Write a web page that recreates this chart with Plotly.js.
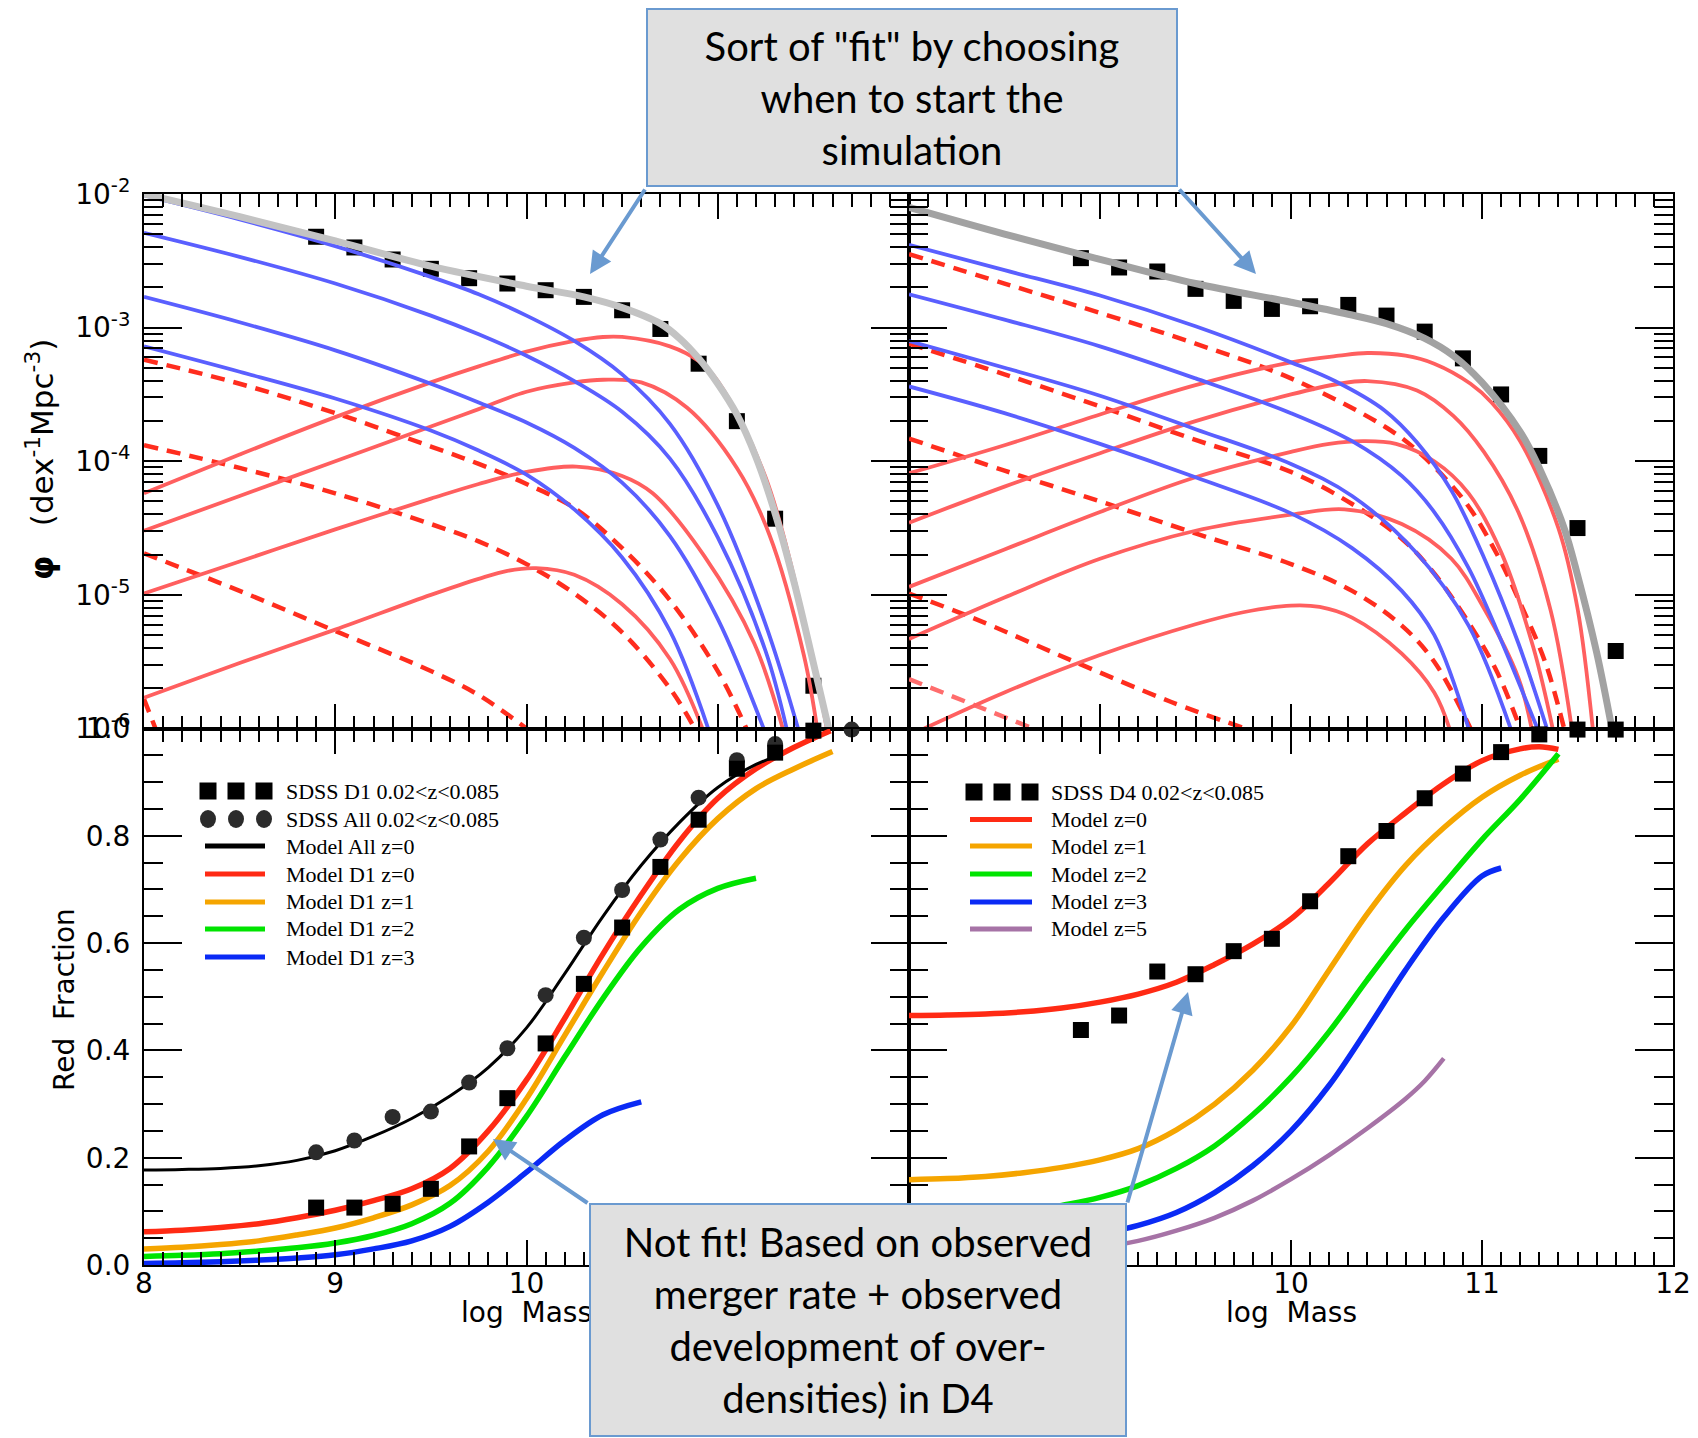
<!DOCTYPE html>
<html><head><meta charset="utf-8">
<script src="https://cdn.plot.ly/plotly-3.0.1.min.js"></script>
<style>html,body{margin:0;padding:0;background:#fff}#chart{width:1698px;height:1438px}</style>
</head><body><div id="chart"></div>
<script>
// ================= DATA =================
// ---- top-left panel: log10(phi) vs log Mass ----
const tlSqX = [8.9, 9.1, 9.3, 9.5, 9.7, 9.9, 10.1, 10.3, 10.5, 10.7, 10.9, 11.1, 11.3, 11.5];
const tlSqY = [-2.32, -2.40, -2.49, -2.56, -2.63, -2.67, -2.72, -2.77, -2.87, -3.01, -3.27, -3.70, -4.43, -5.68];
const tlGrayX = [8.0, 8.5, 9.0, 9.5, 10.0, 10.3, 10.5, 10.7, 10.8, 10.9, 11.0, 11.1, 11.2, 11.3, 11.4, 11.5, 11.58];
const tlGrayY = [-2.00, -2.17, -2.35, -2.54, -2.69, -2.77, -2.85, -2.97, -3.08, -3.23, -3.42, -3.65, -3.97, -4.39, -4.91, -5.51, -6.0];
const tlB1X = [8.0, 8.5, 9.0, 9.5, 9.75, 10.0, 10.25, 10.5, 10.75, 11.0, 11.25, 11.42];
const tlB1Y = [-2.01, -2.19, -2.39, -2.62, -2.75, -2.91, -3.10, -3.35, -3.72, -4.33, -5.22, -6.0];
const tlB2X = [8.0, 8.5, 9.0, 9.5, 9.75, 10.0, 10.25, 10.5, 10.75, 11.0, 11.25, 11.36];
const tlB2Y = [-2.29, -2.47, -2.67, -2.91, -3.05, -3.21, -3.40, -3.63, -3.98, -4.57, -5.42, -6.0];
const tlB3X = [8.0, 8.5, 9.0, 9.5, 9.75, 10.0, 10.25, 10.5, 10.75, 11.0, 11.24];
const tlB3Y = [-2.77, -2.96, -3.17, -3.42, -3.56, -3.71, -3.90, -4.16, -4.56, -5.18, -6.0];
const tlB4X = [8.0, 8.5, 9.0, 9.5, 9.75, 10.0, 10.25, 10.5, 10.75, 10.95];
const tlB4Y = [-3.14, -3.33, -3.53, -3.77, -3.92, -4.10, -4.36, -4.72, -5.27, -6.0];
const tlD1X = [8.0, 8.5, 9.0, 9.5, 9.75, 10.0, 10.25, 10.5, 10.75, 11.0, 11.15];
const tlD1Y = [-3.24, -3.42, -3.64, -3.89, -4.02, -4.17, -4.35, -4.65, -5.04, -5.57, -6.0];
const tlD2X = [8.0, 8.5, 9.0, 9.5, 9.75, 10.0, 10.25, 10.5, 10.75, 10.88];
const tlD2Y = [-3.88, -4.05, -4.24, -4.47, -4.60, -4.77, -4.99, -5.28, -5.70, -6.0];
const tlD3X = [8.0, 8.5, 9.0, 9.5, 9.75, 10.0];
const tlD3Y = [-4.69, -4.97, -5.27, -5.57, -5.75, -6.0];
const tlD4X = [8.0, 8.06];
const tlD4Y = [-5.78, -6.0];
const tlRaX = [8.0, 8.5, 9.0, 9.5, 9.75, 10.0, 10.25, 10.4, 10.5, 10.75, 10.9, 11.0, 11.25, 11.5, 11.57];
const tlRaY = [-4.24, -3.95, -3.67, -3.41, -3.29, -3.18, -3.10, -3.07, -3.07, -3.14, -3.25, -3.40, -4.12, -5.50, -6.0];
const tlRbX = [8.0, 8.5, 9.0, 9.5, 9.75, 10.0, 10.25, 10.4, 10.6, 10.84, 11.1, 11.27, 11.45, 11.52];
const tlRbY = [-4.52, -4.26, -4.00, -3.74, -3.61, -3.48, -3.41, -3.39, -3.41, -3.60, -4.05, -4.55, -5.45, -6.0];
const tlRcX = [8.0, 8.5, 9.0, 9.5, 9.75, 10.0, 10.26, 10.5, 10.66, 10.93, 11.19, 11.34];
const tlRcY = [-4.99, -4.75, -4.51, -4.28, -4.17, -4.08, -4.04, -4.11, -4.24, -4.71, -5.36, -6.0];
const tlRdX = [8.0, 8.5, 9.0, 9.5, 9.75, 9.9, 10.05, 10.25, 10.5, 10.75, 10.92];
const tlRdY = [-5.77, -5.51, -5.26, -5.00, -4.88, -4.82, -4.80, -4.85, -5.07, -5.48, -6.0];

// ---- top-right panel ----
const trSqX = [8.9, 9.1, 9.3, 9.5, 9.7, 9.9, 10.1, 10.3, 10.5, 10.7, 10.9, 11.1, 11.3, 11.5, 11.7];
const trSqY = [-2.48, -2.55, -2.58, -2.71, -2.80, -2.86, -2.84, -2.83, -2.91, -3.03, -3.23, -3.50, -3.96, -4.50, -5.42];
const trGrayX = [8.0, 8.5, 9.0, 9.5, 10.0, 10.3, 10.5, 10.7, 10.85, 11.0, 11.2, 11.3, 11.43, 11.5, 11.6, 11.68];
const trGrayY = [-2.10, -2.30, -2.49, -2.67, -2.81, -2.90, -2.97, -3.08, -3.21, -3.41, -3.78, -4.05, -4.50, -4.85, -5.43, -6.0];
const trB1X = [8.0, 8.5, 9.0, 9.5, 10.0, 10.23, 10.49, 10.66, 10.84, 11.01, 11.19, 11.34];
const trB1Y = [-2.38, -2.57, -2.76, -2.99, -3.26, -3.40, -3.62, -3.86, -4.22, -4.72, -5.36, -6.0];
const trB2X = [8.0, 8.5, 9.0, 9.5, 10.0, 10.32, 10.58, 10.75, 10.93, 11.1, 11.29];
const trB2Y = [-2.75, -2.94, -3.14, -3.38, -3.64, -3.85, -4.11, -4.38, -4.80, -5.34, -6.0];
const trB3X = [8.0, 8.5, 9.0, 9.5, 10.0, 10.32, 10.66, 10.93, 11.15];
const trB3Y = [-3.10, -3.30, -3.51, -3.76, -4.02, -4.26, -4.69, -5.23, -6.0];
const trB4X = [8.0, 8.5, 9.0, 9.5, 10.0, 10.32, 10.58, 10.75, 10.93];
const trB4Y = [-3.44, -3.64, -3.87, -4.12, -4.39, -4.65, -4.97, -5.30, -6.0];
const trD1X = [8.0, 8.5, 9.0, 9.5, 10.0, 10.49, 10.66, 10.91, 11.08, 11.19, 11.33, 11.43];
const trD1Y = [-2.45, -2.67, -2.89, -3.12, -3.38, -3.74, -3.92, -4.30, -4.70, -5.03, -5.50, -6.0];
const trD2X = [8.0, 8.5, 9.0, 9.5, 10.0, 10.32, 10.58, 10.75, 10.94, 11.08, 11.2];
const trD2Y = [-3.12, -3.35, -3.59, -3.84, -4.08, -4.32, -4.58, -4.84, -5.23, -5.58, -6.0];
const trD3X = [8.0, 8.5, 9.0, 9.5, 10.0, 10.32, 10.58, 10.75, 10.94];
const trD3Y = [-3.83, -4.07, -4.30, -4.54, -4.77, -4.97, -5.23, -5.50, -6.0];
const trD4X = [8.0, 8.33, 8.85, 9.37, 9.76];
const trD4Y = [-4.99, -5.17, -5.49, -5.80, -6.0];
const trD5X = [8.0, 8.65];
const trD5Y = [-5.63, -6.0];
const trRaX = [8.0, 8.5, 9.0, 9.5, 10.0, 10.25, 10.4, 10.6, 10.75, 10.94, 11.05, 11.2, 11.4, 11.5, 11.58];
const trRaY = [-4.09, -3.88, -3.65, -3.43, -3.26, -3.21, -3.19, -3.21, -3.27, -3.42, -3.56, -3.85, -4.50, -5.10, -6.0];
const trRbX = [8.0, 8.5, 9.0, 9.5, 10.0, 10.25, 10.4, 10.66, 10.85, 11.01, 11.19, 11.36, 11.47];
const trRbY = [-4.46, -4.19, -3.94, -3.70, -3.50, -3.42, -3.40, -3.47, -3.66, -3.93, -4.38, -5.12, -6.0];
const trRcX = [8.0, 8.5, 9.0, 9.5, 10.0, 10.2, 10.38, 10.55, 10.75, 10.93, 11.1, 11.27, 11.37];
const trRcY = [-4.94, -4.66, -4.38, -4.12, -3.93, -3.87, -3.85, -3.87, -4.00, -4.24, -4.68, -5.40, -6.0];
const trRdX = [8.0, 8.5, 9.0, 9.5, 10.0, 10.28, 10.58, 10.84, 11.01, 11.19, 11.26];
const trRdY = [-5.33, -5.02, -4.73, -4.52, -4.40, -4.36, -4.47, -4.73, -5.10, -5.62, -6.0];
const trReX = [8.08, 8.5, 9.0, 9.5, 9.75, 10.0, 10.15, 10.32, 10.58, 10.75, 10.83];
const trReY = [-6.0, -5.73, -5.45, -5.22, -5.13, -5.08, -5.09, -5.17, -5.44, -5.73, -6.0];

// ---- bottom-left panel: red fraction ----
const blSqX = [8.9, 9.1, 9.3, 9.5, 9.7, 9.9, 10.1, 10.3, 10.5, 10.7, 10.9, 11.1, 11.3, 11.5];
const blSqY = [0.107, 0.107, 0.114, 0.142, 0.221, 0.311, 0.413, 0.524, 0.629, 0.742, 0.830, 0.925, 0.955, 0.996];
const blCiX = [8.9, 9.1, 9.3, 9.5, 9.7, 9.9, 10.1, 10.3, 10.5, 10.7, 10.9, 11.1, 11.3, 11.5, 11.7];
const blCiY = [0.210, 0.232, 0.276, 0.286, 0.340, 0.404, 0.503, 0.610, 0.699, 0.793, 0.871, 0.941, 0.971, 0.996, 0.998];
const blAllX = [8.0, 8.2, 8.4, 8.6, 8.8, 9.0, 9.2, 9.4, 9.6, 9.8, 10.0, 10.2, 10.4, 10.6, 10.8, 11.0, 11.2, 11.3];
const blAllY = [0.177, 0.178, 0.180, 0.185, 0.195, 0.213, 0.240, 0.273, 0.315, 0.368, 0.442, 0.543, 0.650, 0.745, 0.825, 0.890, 0.933, 0.947];
const blZ0X = [8.0, 8.2, 8.4, 8.6, 8.8, 9.0, 9.2, 9.4, 9.6, 9.8, 10.0, 10.2, 10.4, 10.6, 10.8, 11.0, 11.2, 11.4, 11.59];
const blZ0Y = [0.062, 0.065, 0.070, 0.077, 0.088, 0.102, 0.120, 0.142, 0.180, 0.250, 0.345, 0.460, 0.580, 0.690, 0.790, 0.870, 0.925, 0.965, 0.996];
const blZ1X = [8.0, 8.2, 8.4, 8.6, 8.8, 9.0, 9.2, 9.4, 9.6, 9.8, 10.0, 10.2, 10.4, 10.6, 10.8, 11.0, 11.2, 11.4, 11.6];
const blZ1Y = [0.030, 0.033, 0.038, 0.045, 0.056, 0.069, 0.088, 0.112, 0.148, 0.212, 0.310, 0.428, 0.546, 0.658, 0.755, 0.832, 0.888, 0.925, 0.957];
const blZ2X = [8.0, 8.2, 8.4, 8.6, 8.8, 9.0, 9.2, 9.4, 9.6, 9.8, 10.0, 10.2, 10.4, 10.6, 10.8, 11.0, 11.2];
const blZ2Y = [0.016, 0.018, 0.021, 0.026, 0.032, 0.041, 0.055, 0.077, 0.115, 0.183, 0.277, 0.388, 0.497, 0.593, 0.663, 0.702, 0.721];
const blZ3X = [8.0, 8.2, 8.4, 8.6, 8.8, 9.0, 9.2, 9.4, 9.6, 9.8, 10.0, 10.2, 10.4, 10.6];
const blZ3Y = [0.003, 0.004, 0.006, 0.009, 0.013, 0.019, 0.030, 0.045, 0.072, 0.117, 0.173, 0.232, 0.280, 0.304];

// ---- bottom-right panel ----
const brSqX = [8.9, 9.1, 9.3, 9.5, 9.7, 9.9, 10.1, 10.3, 10.5, 10.7, 10.9, 11.1, 11.3, 11.5, 11.7];
const brSqY = [0.438, 0.465, 0.547, 0.542, 0.585, 0.608, 0.678, 0.762, 0.809, 0.870, 0.916, 0.956, 0.989, 0.998, 0.998];
const brZ0X = [8.0, 8.2, 8.4, 8.6, 8.8, 9.0, 9.2, 9.4, 9.6, 9.8, 10.0, 10.2, 10.4, 10.6, 10.8, 11.0, 11.2, 11.3, 11.4];
const brZ0Y = [0.465, 0.466, 0.468, 0.472, 0.479, 0.490, 0.505, 0.527, 0.560, 0.598, 0.645, 0.712, 0.785, 0.843, 0.897, 0.940, 0.962, 0.966, 0.961];
const brZ1X = [8.0, 8.2, 8.4, 8.6, 8.8, 9.0, 9.2, 9.4, 9.6, 9.8, 10.0, 10.2, 10.4, 10.6, 10.8, 11.0, 11.2, 11.4];
const brZ1Y = [0.159, 0.161, 0.165, 0.172, 0.182, 0.196, 0.217, 0.252, 0.300, 0.363, 0.445, 0.550, 0.655, 0.745, 0.815, 0.872, 0.913, 0.943];
const brZ2X = [8.0, 8.2, 8.4, 8.6, 8.8, 9.0, 9.2, 9.4, 9.6, 9.8, 10.0, 10.2, 10.4, 10.6, 10.8, 11.0, 11.2, 11.4];
const brZ2Y = [0.075, 0.080, 0.088, 0.098, 0.111, 0.126, 0.148, 0.180, 0.222, 0.280, 0.350, 0.435, 0.532, 0.625, 0.710, 0.793, 0.868, 0.953];
const brZ3X = [8.0, 8.2, 8.4, 8.6, 8.8, 9.0, 9.2, 9.4, 9.6, 9.8, 10.0, 10.2, 10.4, 10.6, 10.8, 11.0, 11.1];
const brZ3Y = [0.020, 0.023, 0.028, 0.035, 0.045, 0.058, 0.074, 0.098, 0.135, 0.185, 0.250, 0.335, 0.440, 0.550, 0.648, 0.725, 0.740];
const brZ5X = [8.0, 8.2, 8.4, 8.6, 8.8, 9.0, 9.2, 9.4, 9.6, 9.8, 10.0, 10.2, 10.4, 10.6, 10.7, 10.8];
const brZ5Y = [0.002, 0.006, 0.011, 0.017, 0.024, 0.032, 0.045, 0.064, 0.088, 0.120, 0.160, 0.205, 0.255, 0.310, 0.343, 0.385];

// ---- text ----
const logTickVals = [1e-6, 1e-5, 1e-4, 1e-3, 1e-2];
const logTickText = ['10<sup>-6</sup>', '10<sup>-5</sup>', '10<sup>-4</sup>', '10<sup>-3</sup>', '10<sup>-2</sup>'];
const fracTickVals = [0, 0.2, 0.4, 0.6, 0.8, 1.0];
const fracTickText = ['0.0', '0.2', '0.4', '0.6', '0.8', '1.0'];
const legLeftText = ['SDSS D1 0.02&lt;z&lt;0.085', 'SDSS All 0.02&lt;z&lt;0.085', 'Model All z=0', 'Model D1 z=0', 'Model D1 z=1', 'Model D1 z=2', 'Model D1 z=3'];
const legRightText = ['SDSS D4 0.02&lt;z&lt;0.085', 'Model z=0', 'Model z=1', 'Model z=2', 'Model z=3', 'Model z=5'];
const note1 = 'Sort of "fit" by choosing<br>when to start the<br>simulation';
const note2 = 'Not fit! Based on observed<br>merger rate + observed<br>development of over-<br>densities) in D4';

// ================= STYLE / LAYOUT =================
const W = 1698, H = 1438;
const PX = v => v / W, PY = v => 1 - v / H;
const colL = [PX(144), PX(909)], colR = [PX(909), PX(1673)];
const rowT = [PY(728.5), PY(194)], rowB = [PY(1265), PY(728.5)];

const C = {
  blue: '#5a5fff', red: '#ff5f5f', dash: '#ff2d1e', dashLight: '#ff6d6d',
  grayL: '#c3c3c3', grayR: '#a2a2a2',
  fRed: '#ff2a14', fOrange: '#f5a500', fGreen: '#00e400', fBlue: '#0a2af5', fPurple: '#a673a6'
};
const TICKFONT = {family: 'DejaVu Sans', size: 28, color: '#000'};
const DASH = '14px,9px';

const traces = [];
function addLine(xs, ys, xa, ya, color, width, dash, isLog) {
  traces.push({
    type: 'scatter', mode: 'lines', x: xs,
    y: isLog ? ys.map(v => Math.pow(10, v)) : ys,
    xaxis: xa, yaxis: ya, hoverinfo: 'skip', showlegend: false,
    line: {color: color, width: width, dash: dash || 'solid', shape: 'spline', smoothing: 1.0}
  });
}
function addMarkers(xs, ys, xa, ya, symbol, color, isLog) {
  traces.push({
    type: 'scatter', mode: 'markers', x: xs,
    y: isLog ? ys.map(v => Math.pow(10, v)) : ys,
    xaxis: xa, yaxis: ya, hoverinfo: 'skip', showlegend: false, cliponaxis: false,
    marker: {symbol: symbol, size: 16, color: color, line: {width: 0}}
  });
}

// top-left
addMarkers(tlSqX, tlSqY, 'x', 'y', 'square', '#000', true);
[[tlD4X, tlD4Y], [tlD3X, tlD3Y], [tlD2X, tlD2Y], [tlD1X, tlD1Y]].forEach(p => addLine(p[0], p[1], 'x', 'y', C.dash, 4.5, DASH, true));
[[tlRdX, tlRdY], [tlRcX, tlRcY], [tlRbX, tlRbY], [tlRaX, tlRaY]].forEach(p => addLine(p[0], p[1], 'x', 'y', C.red, 3.8, null, true));
[[tlB4X, tlB4Y], [tlB3X, tlB3Y], [tlB2X, tlB2Y], [tlB1X, tlB1Y]].forEach(p => addLine(p[0], p[1], 'x', 'y', C.blue, 3.8, null, true));
addLine(tlGrayX, tlGrayY, 'x', 'y', C.grayL, 7, null, true);

// top-right
addMarkers(trSqX, trSqY, 'x2', 'y2', 'square', '#000', true);
addLine(trD5X, trD5Y, 'x2', 'y2', C.dashLight, 4.5, DASH, true);
[[trD4X, trD4Y], [trD3X, trD3Y], [trD2X, trD2Y], [trD1X, trD1Y]].forEach(p => addLine(p[0], p[1], 'x2', 'y2', C.dash, 4.5, DASH, true));
[[trReX, trReY], [trRdX, trRdY], [trRcX, trRcY], [trRbX, trRbY], [trRaX, trRaY]].forEach(p => addLine(p[0], p[1], 'x2', 'y2', C.red, 3.8, null, true));
[[trB4X, trB4Y], [trB3X, trB3Y], [trB2X, trB2Y], [trB1X, trB1Y]].forEach(p => addLine(p[0], p[1], 'x2', 'y2', C.blue, 3.8, null, true));
addLine(trGrayX, trGrayY, 'x2', 'y2', C.grayR, 7, null, true);

// bottom-left
addLine(blZ3X, blZ3Y, 'x3', 'y3', C.fBlue, 5.5);
addLine(blZ2X, blZ2Y, 'x3', 'y3', C.fGreen, 5.5);
addLine(blZ1X, blZ1Y, 'x3', 'y3', C.fOrange, 5.5);
addLine(blZ0X, blZ0Y, 'x3', 'y3', C.fRed, 5.5);
addLine(blAllX, blAllY, 'x3', 'y3', '#000', 3);
addMarkers(blCiX, blCiY, 'x3', 'y3', 'circle', '#2b2b2b');
addMarkers(blSqX, blSqY, 'x3', 'y3', 'square', '#000');

// bottom-right
addLine(brZ5X, brZ5Y, 'x4', 'y4', C.fPurple, 4.5);
addLine(brZ3X, brZ3Y, 'x4', 'y4', C.fBlue, 5.5);
addLine(brZ1X, brZ1Y, 'x4', 'y4', C.fOrange, 5.5);
addLine(brZ2X, brZ2Y, 'x4', 'y4', C.fGreen, 5.5);
addLine(brZ0X, brZ0Y, 'x4', 'y4', C.fRed, 5.5);
addMarkers(brSqX, brSqY, 'x4', 'y4', 'square', '#000');

// ---- axes ----
const logMinor = [];
for (let n = -6; n < -2; n++) for (let k = 2; k <= 9; k++) logMinor.push(k * Math.pow(10, n));

function xAx(domain, anchor, labels, tickvals) {
  return {
    domain: domain, anchor: anchor, range: [8, 12], showgrid: false, zeroline: false,
    showline: true, linecolor: '#000', linewidth: 2, mirror: 'ticks',
    ticks: 'inside', ticklen: 25, tickwidth: 2, tickcolor: '#000',
    tickmode: 'array', tickvals: tickvals, ticktext: tickvals.map(String),
    showticklabels: labels, tickfont: TICKFONT, ticklabelstandoff: -8,
    minor: {ticks: 'inside', ticklen: 13, tickwidth: 2, tickcolor: '#000', dtick: 0.1, tick0: 8, showgrid: false}
  };
}
function yLogAx(domain, anchor, labels) {
  return {
    domain: domain, anchor: anchor, type: 'log', range: [-6, -2], showgrid: false, zeroline: false,
    showline: true, linecolor: '#000', linewidth: 2, mirror: 'ticks',
    ticks: 'inside', ticklen: 38, tickwidth: 2, tickcolor: '#000',
    tickmode: 'array', tickvals: logTickVals, ticktext: logTickText,
    showticklabels: labels, tickfont: TICKFONT, ticklabelstandoff: 6,
    minor: {ticks: 'inside', ticklen: 19, tickwidth: 2, tickcolor: '#000', tickmode: 'array', tickvals: logMinor, showgrid: false}
  };
}
function yFracAx(domain, anchor, labels) {
  return {
    domain: domain, anchor: anchor, range: [0, 1], showgrid: false, zeroline: false,
    showline: true, linecolor: '#000', linewidth: 2, mirror: 'ticks',
    ticks: 'inside', ticklen: 38, tickwidth: 2, tickcolor: '#000',
    tickmode: 'array', tickvals: fracTickVals, ticktext: fracTickText,
    showticklabels: labels, tickfont: TICKFONT, ticklabelstandoff: 6,
    minor: {ticks: 'inside', ticklen: 19, tickwidth: 2, tickcolor: '#000', dtick: 0.05, tick0: 0, showgrid: false}
  };
}

// ---- custom legends (shapes + text) ----
const shapes = [], annotations = [];
function legSquare(cx, cy) {
  shapes.push({type: 'rect', xref: 'paper', yref: 'paper', x0: PX(cx - 8.5), x1: PX(cx + 8.5), y0: PY(cy + 8.5), y1: PY(cy - 8.5), fillcolor: '#000', line: {width: 0}});
}
function legCircle(cx, cy) {
  shapes.push({type: 'circle', xref: 'paper', yref: 'paper', x0: PX(cx - 8), x1: PX(cx + 8), y0: PY(cy + 9), y1: PY(cy - 9), fillcolor: '#2b2b2b', line: {width: 0}});
}
function legLine(x0, x1, cy, color) {
  shapes.push({type: 'line', xref: 'paper', yref: 'paper', x0: PX(x0), x1: PX(x1), y0: PY(cy), y1: PY(cy), line: {color: color, width: 5}});
}
function legText(x, cy, t) {
  annotations.push({xref: 'paper', yref: 'paper', x: PX(x), y: PY(cy), xanchor: 'left', yanchor: 'middle', showarrow: false, text: t, font: {family: 'Liberation Serif', size: 22, color: '#000'}});
}
const legLRows = [791, 819, 846, 874, 902, 929, 957];
const legLMk = [208, 236, 264];
legLMk.forEach(x => legSquare(x, legLRows[0]));
legLMk.forEach(x => legCircle(x, legLRows[1]));
const legLColors = ['#000', C.fRed, C.fOrange, C.fGreen, C.fBlue];
legLColors.forEach((c, i) => legLine(205, 265, legLRows[i + 2], c));
legLeftText.forEach((t, i) => legText(284, legLRows[i], t));

const legRRows = [792, 819.5, 846, 874, 902, 929];
const legRMk = [974, 1002, 1030];
legRMk.forEach(x => legSquare(x, legRRows[0]));
const legRColors = [C.fRed, C.fOrange, C.fGreen, C.fBlue, C.fPurple];
legRColors.forEach((c, i) => legLine(970, 1032, legRRows[i + 1], c));
legRightText.forEach((t, i) => legText(1049, legRRows[i], t));

// ---- axis titles ----
const TITLEFONT = {family: 'DejaVu Sans', size: 28, color: '#000'};
annotations.push({xref: 'paper', yref: 'paper', x: PX(40), y: PY(460), textangle: -90, showarrow: false, xanchor: 'center', yanchor: 'middle',
  text: '<b>φ</b>\u00a0\u00a0\u00a0(dex<sup>-1</sup>Mpc<sup>-3</sup>)', font: {family: 'DejaVu Sans', size: 31, color: '#000'}});
annotations.push({xref: 'paper', yref: 'paper', x: PX(64), y: PY(999), textangle: -90, showarrow: false, xanchor: 'center', yanchor: 'middle',
  text: 'Red\u00a0\u00a0Fraction', font: TITLEFONT});
annotations.push({xref: 'paper', yref: 'paper', x: PX(526), y: PY(1312), showarrow: false, xanchor: 'center', yanchor: 'middle', text: 'log\u00a0\u00a0Mass', font: TITLEFONT});
annotations.push({xref: 'paper', yref: 'paper', x: PX(1291), y: PY(1312), showarrow: false, xanchor: 'center', yanchor: 'middle', text: 'log\u00a0\u00a0Mass', font: TITLEFONT});

// ---- callout arrows ----
const ARROW = '#6a9ad0';
function arrow(hx, hy, tx, ty) {
  annotations.push({xref: 'paper', yref: 'paper', x: PX(hx), y: PY(hy), ax: tx - hx, ay: ty - hy, axref: 'pixel', ayref: 'pixel',
    text: '', showarrow: true, arrowhead: 2, arrowsize: 1.1, arrowwidth: 4, arrowcolor: ARROW});
}
arrow(590, 274, 646, 188);
arrow(1256, 274, 1178, 188);
arrow(493, 1139, 589, 1204);
arrow(1188, 992, 1127, 1204);

// ---- callout boxes ----
const BOXFONT = {family: 'Lato', size: 40, color: '#000'};
annotations.push({xref: 'paper', yref: 'paper', x: PX(912), y: PY(97.5), xanchor: 'center', yanchor: 'middle', showarrow: false,
  text: note1, align: 'center', valign: 'middle', width: 528, height: 175, borderpad: 0,
  bgcolor: '#e0e0e0', bordercolor: ARROW, borderwidth: 2, font: BOXFONT});
annotations.push({xref: 'paper', yref: 'paper', x: PX(858), y: PY(1320), xanchor: 'center', yanchor: 'middle', showarrow: false,
  text: note2, align: 'center', valign: 'middle', width: 534, height: 230, borderpad: 0,
  bgcolor: '#e0e0e0', bordercolor: ARROW, borderwidth: 2, font: BOXFONT});

const layout = {
  width: W, height: H, margin: {l: 0, r: 0, t: 0, b: 0},
  paper_bgcolor: '#fff', plot_bgcolor: '#fff', showlegend: false,
  xaxis: xAx(colL, 'y', false, [8, 9, 10, 11, 12]),
  yaxis: yLogAx(rowT, 'x', true),
  xaxis2: xAx(colR, 'y2', false, [8, 9, 10, 11, 12]),
  yaxis2: yLogAx(rowT, 'x2', false),
  xaxis3: xAx(colL, 'y3', true, [8, 9, 10, 11]),
  yaxis3: yFracAx(rowB, 'x3', true),
  xaxis4: xAx(colR, 'y4', true, [8, 9, 10, 11, 12]),
  yaxis4: yFracAx(rowB, 'x4', false),
  shapes: shapes, annotations: annotations
};

Plotly.newPlot('chart', traces, layout, {displayModeBar: false, staticPlot: true});
</script>
</body></html>
